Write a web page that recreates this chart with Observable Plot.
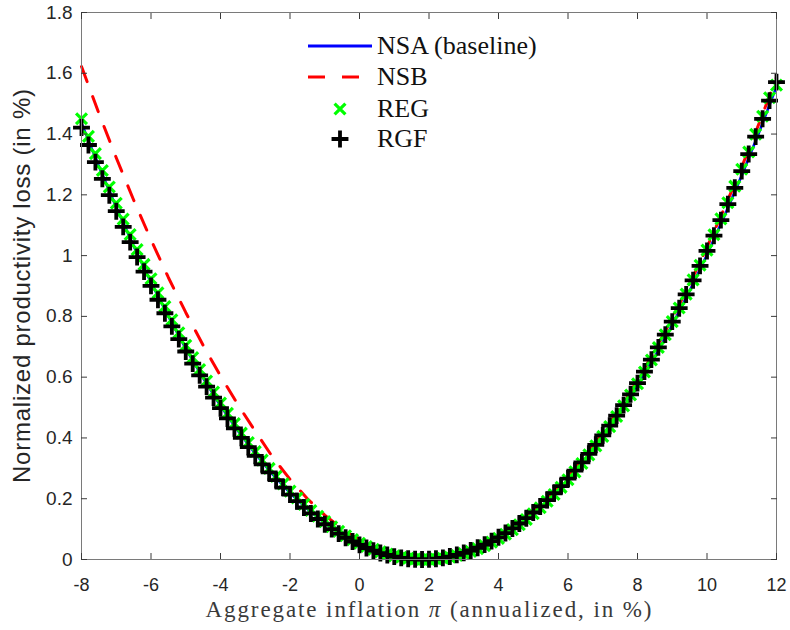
<!DOCTYPE html>
<html><head><meta charset="utf-8">
<script src="https://cdn.jsdelivr.net/npm/d3@7"></script>
<script src="https://cdn.jsdelivr.net/npm/@observablehq/plot@0.6"></script>
<style>body{margin:0;background:#fff;} #chart{position:relative;width:790px;height:630px;}</style>
</head><body><div id="chart"></div>
<script>
// marker grid (annualized aggregate inflation, %)
const markerPi = [
  -8,-7.8,-7.6,-7.4,-7.2,-7,-6.8,-6.6,-6.4,-6.2,
  -6,-5.8,-5.6,-5.4,-5.2,-5,-4.8,-4.6,-4.4,-4.2,
  -4,-3.8,-3.6,-3.4,-3.2,-3,-2.8,-2.6,-2.4,-2.2,
  -2,-1.8,-1.6,-1.4,-1.2,-1,-0.8,-0.6,-0.4,-0.2,
  0,0.2,0.4,0.6,0.8,1,1.2,1.4,1.6,1.8,
  2,2.2,2.4,2.6,2.8,3,3.2,3.4,3.6,3.8,
  4,4.2,4.4,4.6,4.8,5,5.2,5.4,5.6,5.8,
  6,6.2,6.4,6.6,6.8,7,7.2,7.4,7.6,7.8,
  8,8.2,8.4,8.6,8.8,9,9.2,9.4,9.6,9.8,
  10,10.2,10.4,10.6,10.8,11,11.2,11.4,11.6,11.8,
  12];
// RGF (black plus markers)
const rgfLoss = [
  1.4214,1.3640,1.3077,1.2527,1.1988,1.1461,1.0946,1.0443,0.9952,0.9472,
  0.9004,0.8548,0.8104,0.7672,0.7252,0.6844,0.6447,0.6062,0.5689,0.5328,
  0.4979,0.4641,0.4316,0.4002,0.3700,0.3410,0.3132,0.2865,0.2611,0.2368,
  0.2137,0.1918,0.1711,0.1516,0.1332,0.1160,0.1000,0.0852,0.0716,0.0592,
  0.0480,0.0379,0.0290,0.0213,0.0148,0.0095,0.0053,0.0024,0.0006,0.0000,
  0.0006,0.0024,0.0054,0.0097,0.0151,0.0217,0.0296,0.0387,0.0489,0.0604,
  0.0731,0.0870,0.1021,0.1184,0.1359,0.1546,0.1746,0.1957,0.2180,0.2416,
  0.2664,0.2923,0.3195,0.3479,0.3775,0.4083,0.4403,0.4735,0.5080,0.5436,
  0.5804,0.6185,0.6578,0.6982,0.7399,0.7828,0.8269,0.8722,0.9187,0.9664,
  1.0153,1.0655,1.1168,1.1693,1.2231,1.2781,1.3342,1.3916,1.4502,1.5100,
  1.5710];
// REG (green x markers)
const regLoss = [
  1.4505,1.3925,1.3357,1.2801,1.2256,1.1723,1.1202,1.0693,1.0196,0.9710,
  0.9237,0.8775,0.8325,0.7887,0.7461,0.7046,0.6644,0.6253,0.5874,0.5507,
  0.5152,0.4809,0.4477,0.4157,0.3849,0.3553,0.3269,0.2997,0.2737,0.2488,
  0.2251,0.2026,0.1813,0.1612,0.1422,0.1245,0.1079,0.0925,0.0783,0.0653,
  0.0534,0.0428,0.0333,0.0250,0.0179,0.0120,0.0073,0.0037,0.0013,0.0001,
  0.0002,0.0016,0.0042,0.0080,0.0131,0.0194,0.0269,0.0357,0.0457,0.0570,
  0.0695,0.0832,0.0982,0.1144,0.1318,0.1505,0.1704,0.1915,0.2139,0.2375,
  0.2623,0.2884,0.3157,0.3442,0.3740,0.4050,0.4372,0.4707,0.5054,0.5413,
  0.5785,0.6169,0.6565,0.6974,0.7395,0.7828,0.8274,0.8732,0.9202,0.9685,
  1.0180,1.0688,1.1208,1.1740,1.2285,1.2842,1.3411,1.3993,1.4587,1.5194,
  1.5610];
// line grid
const linePi = [
  -8,-7.5,-7,-6.5,-6,-5.5,-5,-4.5,-4,-3.5,
  -3,-2.5,-2,-1.5,-1,-0.5,0,0.5,1,1.5,
  2,2.5,3,3.5,4,4.5,5,5.5,6,6.5,
  7,7.5,8,8.5,9,9.5,10,10.5,11,11.5,
  12];
// NSA (baseline), blue solid
const nsaLoss = [
  1.436,1.294,1.159,1.032,0.912,0.800,0.694,0.597,0.506,0.424,
  0.348,0.280,0.219,0.166,0.120,0.082,0.051,0.027,0.011,0.002,
  0.0003,0.006,0.020,0.041,0.070,0.106,0.150,0.201,0.260,0.326,
  0.400,0.482,0.571,0.668,0.772,0.884,1.003,1.130,1.264,1.406,
  1.556];
// NSB, red dashed
const nsbLoss = [
  1.622,1.468,1.322,1.183,1.052,0.928,0.813,0.705,0.604,0.510,
  0.422,0.337,0.264,0.200,0.146,0.101,0.064,0.033,0.0125,0.0018,
  0.0009,0.0085,0.0236,0.0462,0.0764,0.1142,0.1595,0.2123,0.2727,0.3407,
  0.4162,0.4992,0.5898,0.6880,0.7937,0.9069,1.0277,1.1561,1.2920,1.4354,
  1.5864];

const xTicks = [-8,-6,-4,-2,0,2,4,6,8,10,12];
const xTickLabels = ["-8","-6","-4","-2","0","2","4","6","8","10","12"];
const yTicks = [0,0.2,0.4,0.6,0.8,1,1.2,1.4,1.6,1.8];
const yTickLabels = ["0","0.2","0.4","0.6","0.8","1","1.2","1.4","1.6","1.8"];
const seriesNames = ["NSA (baseline)","NSB","REG","RGF"];
const seriesColors = ["#0000ff","#ff0000","#00ff00","#000000"];
const xLabelPre = "Aggregate inflation ";
const xLabelSym = "π";
const xLabelPost = " (annualized, in %)";
const yLabel = "Normalized productivity loss (in %)";

const markers = markerPi.map((p,i)=>({pi:p, rgf:rgfLoss[i], reg:regLoss[i]}));
const lines = linePi.map((p,i)=>({pi:p, nsa:nsaLoss[i], nsb:nsbLoss[i]}));

const tickColor = "#3a3a3a";
const plot = Plot.plot({
  width: 790, height: 630,
  marginLeft: 81, marginRight: 14, marginTop: 12, marginBottom: 71,
  style: {fontFamily: "'Liberation Sans', Arial, sans-serif", background: "#fff", color: "#262626"},
  x: {domain: [-8, 12]},
  y: {domain: [0, 1.8]},
  marks: [
    Plot.line(lines, {x: "pi", y: "nsa", stroke: seriesColors[0], strokeWidth: 2.6}),
    Plot.line(lines, {x: "pi", y: "nsb", stroke: seriesColors[1], strokeWidth: 3, strokeDasharray: "16,16"}),
    Plot.dot(markers, {x: "pi", y: "reg", symbol: "times", r: 5, fill: "none", stroke: seriesColors[2], strokeWidth: 3.2}),
    Plot.dot(markers, {x: "pi", y: "rgf", symbol: "plus", r: 5.5, fill: "none", stroke: seriesColors[3], strokeWidth: 3.8}),
    Plot.frame({stroke: "#7a7a7a", strokeWidth: 1}),
    Plot.axisX({anchor: "bottom", ticks: xTicks, tickSize: 6, dy: -6, tickPadding: 19, fontSize: 18, stroke: tickColor,
      tickFormat: d => xTickLabels[xTicks.indexOf(d)], label: null}),
    Plot.axisX({anchor: "top", ticks: xTicks, tickSize: 6, dy: 6, tickFormat: () => "", stroke: tickColor, label: null}),
    Plot.axisY({anchor: "left", ticks: yTicks, tickSize: 6, dx: 6, tickPadding: 9, fontSize: 19, stroke: tickColor,
      tickFormat: d => yTickLabels[yTicks.indexOf(d)], label: null}),
    Plot.axisY({anchor: "right", ticks: yTicks, tickSize: 6, dx: -6, tickFormat: () => "", stroke: tickColor, label: null})
  ]
});
document.getElementById("chart").appendChild(plot);

const svg = d3.select(plot);
// axis titles
const xt = svg.append("text")
  .attr("x", 428.5).attr("y", 617)
  .attr("text-anchor", "middle")
  .attr("font-family", "'Liberation Serif', 'Times New Roman', serif")
  .attr("font-size", 23).attr("fill", "#3a3a3a")
  .attr("textLength", 446).attr("lengthAdjust", "spacing");
xt.append("tspan").text(xLabelPre);
xt.append("tspan").attr("font-style", "italic").text(xLabelSym);
xt.append("tspan").text(xLabelPost);

svg.append("text")
  .attr("transform", "translate(30,286) rotate(-90)")
  .attr("text-anchor", "middle")
  .attr("font-family", "'Liberation Sans', Arial, sans-serif")
  .attr("font-size", 24).attr("fill", "#262626")
  .attr("textLength", 394).attr("lengthAdjust", "spacing")
  .text(yLabel);

// legend
const lg = svg.append("g");
const rowY = [46, 77, 109, 139];
lg.append("line").attr("x1", 308).attr("x2", 372).attr("y1", rowY[0]).attr("y2", rowY[0])
  .attr("stroke", seriesColors[0]).attr("stroke-width", 3);
lg.append("line").attr("x1", 308).attr("x2", 372).attr("y1", rowY[1]).attr("y2", rowY[1])
  .attr("stroke", seriesColors[1]).attr("stroke-width", 3).attr("stroke-dasharray", "17,17");
lg.append("path").attr("transform", `translate(340,${rowY[2]})`)
  .attr("d", d3.symbol(d3.symbolTimes, Math.PI * 5 * 5)()).attr("fill", "none")
  .attr("stroke", seriesColors[2]).attr("stroke-width", 3.2);
lg.append("path").attr("transform", `translate(340,${rowY[3]})`)
  .attr("d", d3.symbol(d3.symbolPlus, Math.PI * 5.5 * 5.5)()).attr("fill", "none")
  .attr("stroke", seriesColors[3]).attr("stroke-width", 3.8);
seriesNames.forEach((name, i) => {
  lg.append("text").attr("x", 377).attr("y", rowY[i] + 8)
    .attr("text-anchor", "start")
    .attr("font-family", "'Liberation Serif', 'Times New Roman', serif")
    .attr("font-size", 26).attr("fill", "#111")
    .text(name);
});
</script>
</body></html>
